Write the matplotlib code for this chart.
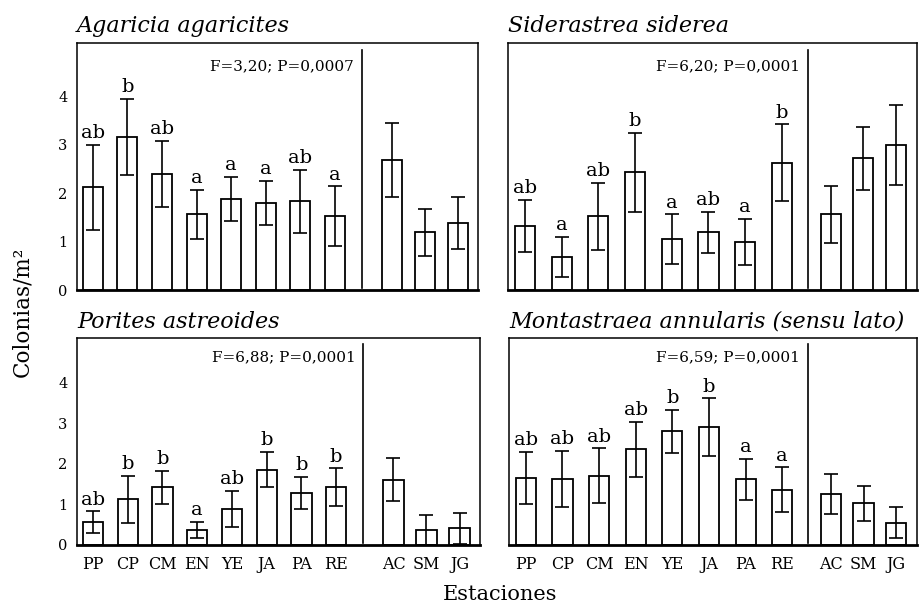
import numpy as np
import matplotlib.pyplot as plt

# -- data ---------------------------------------------------------------------
stations = ["PP", "CP", "CM", "EN", "YE", "JA", "PA", "RE", "AC", "SM", "JG"]

agaricia_mean = [2.12, 3.16, 2.40, 1.56, 1.88, 1.80, 1.83, 1.52, 2.68, 1.19, 1.39]
agaricia_err = [0.88, 0.78, 0.68, 0.50, 0.46, 0.46, 0.65, 0.62, 0.76, 0.48, 0.54]
agaricia_grp = ["ab", "b", "ab", "a", "a", "a", "ab", "a"]
agaricia_stat = "F=3,20; P=0,0007"

siderastrea_mean = [1.32, 0.68, 1.52, 2.43, 1.05, 1.19, 0.99, 2.63, 1.56, 2.72, 3.00]
siderastrea_err = [0.54, 0.42, 0.69, 0.81, 0.51, 0.43, 0.48, 0.79, 0.59, 0.65, 0.83]
siderastrea_grp = ["ab", "a", "ab", "b", "a", "ab", "a", "b"]
siderastrea_stat = "F=6,20; P=0,0001"

porites_mean = [0.56, 1.13, 1.42, 0.37, 0.89, 1.86, 1.28, 1.43, 1.61, 0.37, 0.41]
porites_err = [0.27, 0.58, 0.41, 0.20, 0.44, 0.43, 0.40, 0.46, 0.53, 0.36, 0.39]
porites_grp = ["ab", "b", "b", "a", "ab", "b", "b", "b"]
porites_stat = "F=6,88; P=0,0001"

montastraea_mean = [1.66, 1.62, 1.71, 2.36, 2.80, 2.90, 1.62, 1.36, 1.26, 1.03, 0.55]
montastraea_err = [0.64, 0.69, 0.67, 0.68, 0.53, 0.71, 0.50, 0.55, 0.50, 0.43, 0.38]
montastraea_grp = ["ab", "ab", "ab", "ab", "b", "b", "a", "a"]
montastraea_stat = "F=6,59; P=0,0001"

# -- layout -------------------------------------------------------------------
W, H = 919, 605
plt.rcParams["font.family"] = "DejaVu Serif"


def positions(gap, step):
    main = np.arange(8, dtype=float)
    extra = 7 + gap + np.arange(3) * step
    return np.concatenate([main, extra])


left_col = dict(x=positions(1.65, 0.95), xlim=(-0.46, 11.14), div=7.77, width=0.58)
right_col = dict(x=positions(1.34, 0.88), xlim=(-0.46, 10.68), div=7.70, width=0.55)

panels = [
    ("Agaricia agaricites", agaricia_mean, agaricia_err, agaricia_grp, agaricia_stat,
     [77, 43, 478, 290], left_col, True, False),
    ("Siderastrea siderea", siderastrea_mean, siderastrea_err, siderastrea_grp,
     siderastrea_stat, [508, 43, 917, 290], right_col, False, False),
    ("Porites astreoides", porites_mean, porites_err, porites_grp, porites_stat,
     [77, 338, 480, 545], left_col, True, True),
    ("Montastraea annularis (sensu lato)", montastraea_mean, montastraea_err,
     montastraea_grp, montastraea_stat, [509, 338, 917, 545], right_col, False, True),
]

fig = plt.figure(figsize=(W / 100, H / 100), dpi=100)

for title, mean, err, grp, stat, box, col, ylab, xlab in panels:
    x0, y0, x1, y1 = box
    ax = fig.add_axes([x0 / W, 1 - y1 / H, (x1 - x0) / W, (y1 - y0) / H])
    xs = col["x"]
    ax.bar(xs, mean, width=col["width"], color="white", edgecolor="black",
           linewidth=1.3, zorder=2)
    ax.errorbar(xs, mean, yerr=err, fmt="none", ecolor="black",
                elinewidth=1.2, capsize=4.8, capthick=1.2, zorder=3)

    # letter groups above the first eight stations
    for xi, m, e, g in zip(xs[:8], mean[:8], err[:8], grp):
        ax.annotate(g, (xi, m + e), xytext=(0, 2), textcoords="offset points",
                    ha="center", va="bottom", fontsize=14)

    ax.axvline(col["div"], ymin=0.01, ymax=0.97, color="black", linewidth=1.2)
    ax.text(col["div"] - 0.22, 0.905, stat, transform=ax.get_xaxis_transform(),
            ha="right", va="center", fontsize=11)

    ax.text(0.0, 1.025, title, transform=ax.transAxes, ha="left", va="bottom",
            fontsize=16, style="italic")

    ax.set_xlim(*col["xlim"])
    ax.set_ylim(0, 5.1)
    ax.set_yticks([0, 1, 2, 3, 4])
    ax.set_xticks(xs)
    ax.set_xticklabels(stations)
    ax.tick_params(length=0, labelsize=10.5, pad=7)
    ax.tick_params(axis="x", labelsize=11.5, pad=8)
    if not ylab:
        ax.tick_params(labelleft=False)
    if not xlab:
        ax.tick_params(labelbottom=False)
    for side in ["left", "right", "top"]:
        ax.spines[side].set_linewidth(1.1)
    ax.spines["bottom"].set_linewidth(2.0)

fig.text(22 / W, 1 - 312 / H, "Colonias/m²", rotation=90, ha="center",
         va="center", fontsize=15.5)
fig.text(500 / W, 1 - 600 / H, "Estaciones", ha="center", va="baseline",
         fontsize=15)

fig.savefig("out.png", dpi=100)
